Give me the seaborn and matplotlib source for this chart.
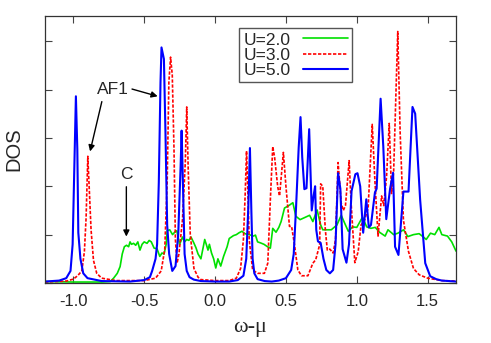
import numpy as np
import pandas as pd
import seaborn as sns
import matplotlib
matplotlib.use("Agg")
import matplotlib.pyplot as plt

# DOS curves (arbitrary units, tick step = 1)
w_u2 = [-1.2, -1.0, -0.8, -0.74, -0.716, -0.69, -0.67, -0.655, -0.64, -0.625, -0.61, -0.6,
        -0.59, -0.575, -0.56, -0.545, -0.53, -0.515, -0.5, -0.48, -0.465, -0.45, -0.43, -0.41,
        -0.39, -0.375, -0.36, -0.345, -0.338, -0.32, -0.3, -0.285, -0.27, -0.25, -0.23, -0.215,
        -0.2, -0.185, -0.17, -0.15, -0.135, -0.12, -0.1, -0.085, -0.073, -0.06, -0.05, -0.04,
        -0.025, -0.01, 0.005, 0.02, 0.04, 0.06, 0.085, 0.1, 0.13, 0.15, 0.17, 0.19, 0.21, 0.24,
        0.27, 0.285, 0.3, 0.32, 0.345, 0.37, 0.39, 0.407, 0.43, 0.45, 0.466, 0.49, 0.52, 0.549,
        0.57, 0.6, 0.63, 0.667, 0.69, 0.72, 0.745, 0.76, 0.79, 0.82, 0.86, 0.89, 0.92, 0.94,
        0.97, 1.0, 1.04, 1.07, 1.1, 1.13, 1.16, 1.2, 1.22, 1.26, 1.29, 1.33, 1.36, 1.4, 1.44,
        1.47, 1.49, 1.52, 1.55, 1.58, 1.6, 1.64, 1.67, 1.7]
dos_u2 = [0.03, 0.02, 0.02, 0.03, 0.1, 0.2, 0.34, 0.6, 0.75, 0.78, 0.75, 0.85,
          0.8, 0.82, 0.78, 0.85, 0.68, 0.8, 0.85, 0.82, 0.88, 0.85, 0.72, 0.71,
          0.55, 0.62, 0.6, 0.8, 1.08, 1.1, 1.0, 1.05, 1.08, 0.8, 0.95, 0.85,
          0.9, 0.88, 0.95, 0.83, 0.73, 0.6, 0.5, 0.72, 0.9, 0.78, 0.68, 0.8,
          0.62, 0.5, 0.31, 0.5, 0.35, 0.55, 0.75, 0.92, 0.98, 1.0, 1.04, 1.07, 1.02, 1.0,
          0.97, 0.99, 0.85, 0.83, 0.8, 0.75, 0.72, 1.13, 1.05, 1.15, 1.27, 1.55, 1.6, 1.66,
          1.38, 1.31, 1.35, 1.4, 1.27, 1.51, 1.2, 1.1, 1.1, 1.1, 1.2, 1.4, 1.2, 1.07,
          1.16, 1.15, 1.36, 1.16, 1.13, 1.15, 1.05, 0.97, 1.1, 1.0, 1.03, 1.1, 0.96, 1.0, 1.02,
          0.95, 0.9, 1.03, 1.0, 1.15, 1.0, 0.97, 0.85, 0.66]

w_u3 = [-1.2, -1.05, -1.0, -0.97, -0.94, -0.922, -0.91, -0.898, -0.887, -0.875, -0.858, -0.835,
        -0.8, -0.7, -0.5, -0.42, -0.38, -0.355, -0.338, -0.326, -0.314, -0.302, -0.29, -0.28,
        -0.268, -0.255, -0.23, -0.21, -0.2, -0.19, -0.175, -0.149, -0.12, -0.1, 0.0, 0.1, 0.15,
        0.18, 0.2, 0.212, 0.222, 0.232, 0.241, 0.265, 0.3, 0.348, 0.372, 0.39, 0.407, 0.42,
        0.442, 0.455, 0.482, 0.5, 0.525, 0.54, 0.56, 0.584, 0.61, 0.655, 0.69, 0.71, 0.738,
        0.745, 0.76, 0.778, 0.792, 0.81, 0.833, 0.85, 0.868, 0.89, 0.905, 0.92, 0.946, 0.96,
        0.986, 1.01, 1.03, 1.055, 1.08, 1.109, 1.128, 1.15, 1.175, 1.19, 1.21, 1.229, 1.245,
        1.26, 1.289, 1.306, 1.329, 1.365, 1.4, 1.44, 1.5, 1.6, 1.7]
dos_u3 = [0.02, 0.04, 0.08, 0.15, 0.25, 0.65, 1.35, 2.62, 1.9, 1.1, 0.47, 0.2,
          0.1, 0.05, 0.05, 0.1, 0.25, 0.7, 2.08, 4.15, 4.67, 4.3, 2.8, 0.9,
          0.41, 0.6, 1.3, 2.5, 3.64, 2.4, 1.0, 0.3, 0.12, 0.07, 0.05, 0.05, 0.1,
          0.3, 0.9, 1.8, 2.73, 1.8, 0.89, 0.27, 0.2, 0.2, 0.41, 1.72, 2.82, 2.6,
          1.99, 1.8, 2.7, 2.0, 1.17, 1.17, 0.8, 0.27, 0.15, 0.15, 0.41, 0.48, 0.79,
          2.05, 2.0, 1.1, 0.68, 0.7, 0.62, 0.9, 2.49, 1.65, 1.5, 1.6, 2.53, 1.65,
          0.42, 0.65, 1.2, 1.3, 1.55, 3.28, 2.1, 0.97, 1.8, 1.6, 2.2, 3.3, 1.85,
          2.3, 5.2, 3.1, 1.3, 0.65, 0.3, 0.17, 0.1, 0.05, 0.04]

w_u5 = [-1.2, -1.1, -1.05, -1.02, -1.005, -0.993, -0.982, -0.972, -0.965, -0.95, -0.93, -0.9,
        -0.8, -0.6, -0.5, -0.46, -0.444, -0.42, -0.409, -0.397, -0.385, -0.378, -0.361, -0.35,
        -0.338, -0.324, -0.302, -0.279, -0.26, -0.243, -0.236, -0.228, -0.215, -0.2, -0.18,
        -0.15, -0.1, 0.0, 0.1, 0.16, 0.2, 0.22, 0.235, 0.246, 0.256, 0.265, 0.277, 0.3, 0.35,
        0.4, 0.45, 0.5, 0.537, 0.555, 0.572, 0.59, 0.603, 0.615, 0.63, 0.645, 0.664, 0.682,
        0.695, 0.706, 0.714, 0.726, 0.745, 0.765, 0.785, 0.81, 0.833, 0.85, 0.868, 0.884,
        0.9, 0.927, 0.945, 0.963, 0.99, 1.005, 1.024, 1.045, 1.067, 1.085, 1.1, 1.128, 1.14,
        1.168, 1.187, 1.208, 1.235, 1.256, 1.27, 1.294, 1.329, 1.365, 1.393, 1.412, 1.447,
        1.483, 1.518, 1.56, 1.6, 1.7]
dos_u5 = [0.03, 0.05, 0.1, 0.25, 0.8, 2.4, 3.86, 2.77, 1.04, 0.5, 0.2, 0.1,
          0.04, 0.03, 0.06, 0.12, 0.25, 0.5, 0.8, 2.08, 4.15, 4.87, 4.63, 3.11,
          1.2, 0.6, 0.25, 0.35, 1.0, 2.42, 3.15, 2.2, 0.6, 0.25, 0.12,
          0.07, 0.04, 0.03, 0.03, 0.06, 0.15, 0.5, 1.6, 2.79, 1.5, 0.5, 0.2, 0.08, 0.04,
          0.03, 0.05, 0.1, 0.27, 0.6, 1.6, 2.8, 3.43, 2.6, 1.94, 1.96, 3.18, 1.5,
          1.8, 2.0, 1.1, 0.86, 0.83, 0.5, 0.27, 0.2, 0.27, 0.8, 2.27, 1.95,
          0.7, 0.42, 0.8, 1.9, 2.25, 2.27, 2.0, 1.04, 1.73, 1.15, 1.2, 1.87, 1.95,
          3.81, 2.82, 1.32, 1.95, 2.28, 0.75, 0.58, 1.89, 1.89, 3.64, 3.5, 1.72,
          0.41, 0.14, 0.08, 0.05, 0.03]

labels = ["U=2.0", "U=3.0", "U=5.0"]
colors = ["#00e000", "#ff0000", "#0000ff"]

sns.set_style("ticks")
plt.rcParams["font.family"] = ["Liberation Sans", "DejaVu Sans"]
plt.rcParams["axes.unicode_minus"] = False

fig = plt.figure(figsize=(4.91, 3.43), dpi=100)
ax = fig.add_axes([45 / 491, 60 / 343, 411 / 491, 267 / 343])

sns.lineplot(x=w_u2, y=dos_u2, ax=ax, color=colors[0], lw=1.2, label=labels[0])
sns.lineplot(x=w_u3, y=dos_u3, ax=ax, color=colors[1], lw=1.2, label=labels[1],
             linestyle=(0, (2.0, 1.0)))
sns.lineplot(x=w_u5, y=dos_u5, ax=ax, color=colors[2], lw=1.5, label=labels[2])

ax.set_xlim(-1.2, 1.7)
ax.set_ylim(0, 5.52)
ax.set_xticks([-1.0, -0.5, 0.0, 0.5, 1.0, 1.5])
ax.set_xticklabels(["-1.0", "-0.5", "0.0", "0.5", "1.0", "1.5"])
ax.set_yticks([0, 1, 2, 3, 4, 5])
ax.set_yticklabels([])
ax.tick_params(direction="in", length=5, width=0.8, top=True, right=True,
               labelsize=12, pad=8, color="#444444")
for s in ax.spines.values():
    s.set_visible(True)
    s.set_linewidth(0.9)
    s.set_color("#333333")

ax.set_xlabel("ω-μ", fontsize=16, family=["Liberation Serif", "DejaVu Serif"])
ax.xaxis.set_label_coords(0.5, -0.13)
ax.set_ylabel("DOS", fontsize=14.5)
ax.yaxis.set_label_coords(-0.052, 0.5)

arrow = dict(arrowstyle="-|>", color="black", lw=1.0, mutation_scale=9, shrinkA=0, shrinkB=0)
ax.text(-0.718, 4.0, "AF1", fontsize=12.5, ha="center", va="center")
ax.annotate("", xy=(-0.405, 3.86), xytext=(-0.586, 4.01), arrowprops=arrow)
ax.annotate("", xy=(-0.882, 2.72), xytext=(-0.799, 3.75), arrowprops=arrow)
ax.text(-0.626, 2.24, "C", fontsize=12.5, ha="center", va="center")
ax.annotate("", xy=(-0.626, 0.96), xytext=(-0.626, 1.99), arrowprops=arrow)

leg = ax.legend(loc="upper left", bbox_to_anchor=(0.472, 0.955), markerfirst=False,
                frameon=True, fancybox=False, borderaxespad=0, fontsize=12.5,
                handlelength=2.6, handletextpad=0.7, labelspacing=0.0, borderpad=0.25)
leg.get_frame().set_edgecolor("#555555")
leg.get_frame().set_linewidth(1.0)
leg.get_frame().set_alpha(1)

fig.savefig("out.png", dpi=100)
